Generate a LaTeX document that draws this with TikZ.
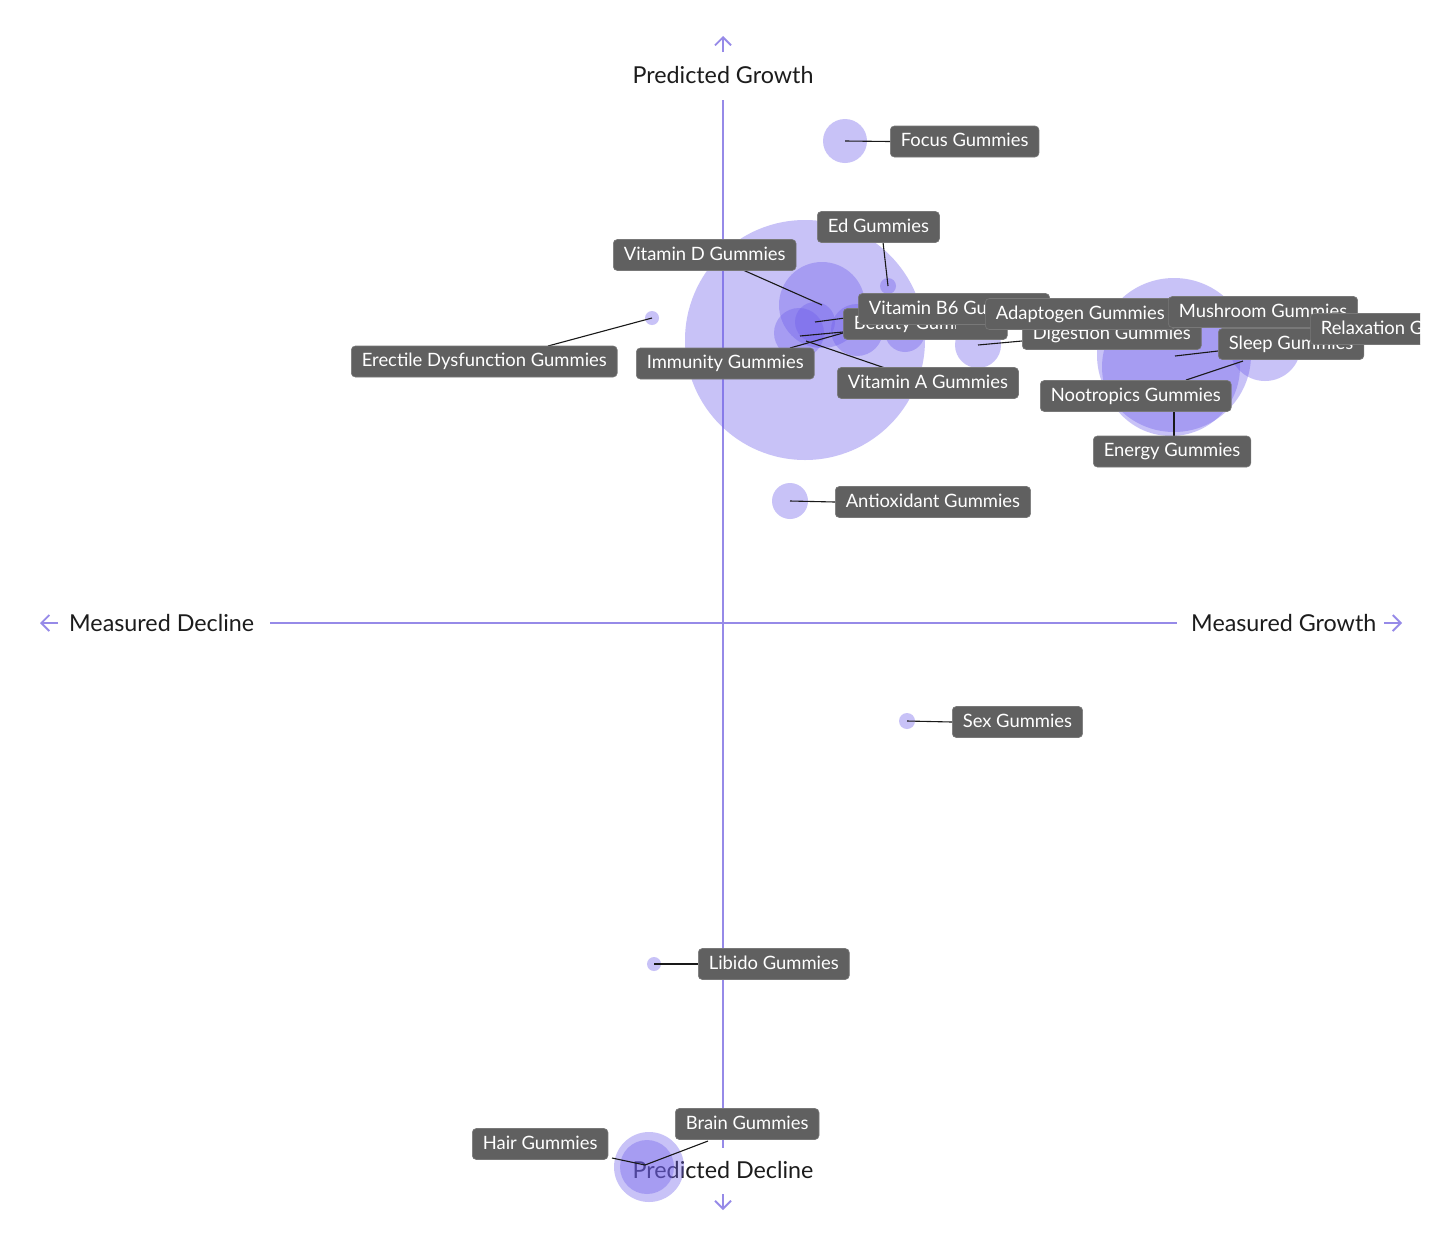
\documentclass[tikz,border=0pt]{standalone}
\usepackage{fontspec}
\setmainfont{Lato}
\usetikzlibrary{arrows.meta}
\definecolor{bub}{RGB}{112,96,236}
\definecolor{axisc}{RGB}{150,138,232}
\definecolor{lblgray}{RGB}{96,96,96}
\definecolor{txtc}{RGB}{28,28,28}
\tikzset{
  bubble/.style={fill=bub, fill opacity=0.38, draw=none},
  lbl/.style={fill=lblgray, draw=lblgray!85!white, line width=0.6pt, rounded corners=4pt, text=white,
    font=\fontsize{18.4}{20}\selectfont, inner xsep=10.5pt, inner ysep=0pt, minimum height=31pt, anchor=west, text height=12pt, text depth=2pt},
  conn/.style={draw=black!90, line width=1.1pt},
  axisline/.style={draw=axisc, line width=1.3pt},
  axistip/.style={draw=axisc, line width=1.8pt, -{Straight Barb[length=8pt,width=16pt,line width=1.8pt]}},
  axislbl/.style={text=txtc, font=\fontsize{23.3}{26}\selectfont, inner sep=0pt},
}
\begin{document}
\begin{tikzpicture}[x=1pt,y=-1pt]
\useasboundingbox[fill=white] (0,0) rectangle (1456,1248);
% axes
\draw[axisline] (723,100) coordinate (vtop) -- (723,1148) coordinate (vbot);
\draw[axisline] (270,623) coordinate (hleft) -- (1177,623) coordinate (hright);
\coordinate (upA) at (723,52); \coordinate (upB) at (723,36);
\coordinate (dnA) at (723,1194); \coordinate (dnB) at (723,1210);
\coordinate (lfA) at (58,623); \coordinate (lfB) at (40,623);
\coordinate (rtA) at (1384,623); \coordinate (rtB) at (1402,623);
\draw[axistip] (upA) -- (upB);
\draw[axistip] (dnA) -- (dnB);
\draw[axistip] (lfA) -- (lfB);
\draw[axistip] (rtA) -- (rtB);
\node[axislbl] (pg) at (723,75) {Predicted Growth};
\node[axislbl] (pd) at (723,1170) {Predicted Decline};
\node[axislbl, anchor=west] (md) at (69,623) {Measured Decline};
\node[axislbl, anchor=west] (mg) at (1191,623) {Measured Growth};
% bubbles
\fill[bubble] (805,340) circle (120);
\fill[bubble] (822,305) circle (43);
\fill[bubble] (815,322) circle (20);
\fill[bubble] (799,333) circle (25);
\fill[bubble] (857,330) circle (26);
\fill[bubble] (905,332) circle (20);
\fill[bubble] (888,286) circle (8);
\fill[bubble] (978,345) circle (23);
\fill[bubble] (652,318) circle (7);
\fill[bubble] (845,141) circle (22);
\fill[bubble] (790,501) circle (18);
\fill[bubble] (907,721) circle (8);
\fill[bubble] (654,964) circle (7);
\fill[bubble] (649,1167) circle (35);
\fill[bubble] (647,1167) circle (27);
\fill[bubble] (1174,355) circle (77);
\fill[bubble] (1171,367) circle (69);
\fill[bubble] (1265,345) circle (36);
% bubble centres / connector ends
\coordinate (cFocus) at (845,141);
\coordinate (cEd) at (888,286); \coordinate (eEd) at (883,242);
\coordinate (cVitD) at (822,305); \coordinate (eVitD) at (743,270);
\coordinate (cErec) at (652,318); \coordinate (eErec) at (548,346);
\coordinate (cB6) at (815,322); \coordinate (eB6) at (845,318);
\coordinate (cBeauty) at (800,336); \coordinate (eBeauty) at (843,332);
\coordinate (cImm) at (790,348); \coordinate (eImm) at (843,333);
\coordinate (cVitA) at (806,341); \coordinate (eVitA) at (885,368);
\coordinate (cDig) at (978,345); \coordinate (eDig) at (1022,341);
\coordinate (cMush) at (1175,356); \coordinate (eMush) at (1218,351);
\coordinate (cNoo) at (1186,380); \coordinate (eNoo) at (1243,361);
\coordinate (cEn) at (1174,412); \coordinate (eEn) at (1174,436);
\coordinate (cAnti) at (790,501);
\coordinate (cSex) at (907,721);
\coordinate (cLib) at (654,964);
\coordinate (cHair) at (645,1165); \coordinate (eHair) at (612,1158);
\coordinate (eBrain) at (708,1141);
% connectors
\draw[conn] (cEd) -- (eEd);
\draw[conn] (cVitD) -- (eVitD);
\draw[conn] (cErec) -- (eErec);
\draw[conn] (cB6) -- (eB6);
\draw[conn] (cBeauty) -- (eBeauty);
\draw[conn] (cImm) -- (eImm);
\draw[conn] (cVitA) -- (eVitA);
\draw[conn] (cDig) -- (eDig);
\draw[conn] (cMush) -- (eMush);
\draw[conn] (cNoo) -- (eNoo);
\draw[conn] (cEn) -- (eEn);
\draw[conn] (cHair) -- (eHair);
\draw[conn] (cHair) -- (eBrain);
% labels
\node[lbl] (lFocus) at (890,141.5) {Focus Gummies};
\node[lbl] (lEd) at (817,227) {Ed Gummies};
\node[lbl] (lVitD) at (613,255) {Vitamin D Gummies};
\node[lbl] (lErec) at (351,361.5) {Erectile Dysfunction Gummies};
\node[lbl] (lImm) at (636,363.5) {Immunity Gummies};
\node[lbl] (lVitA) at (837,383) {Vitamin A Gummies};
\node[lbl, minimum width=164pt, text width=142pt, align=left] (lBeauty) at (843,324) {};
\begin{scope}
\clip (845,300) rectangle (955,345);
\node[lbl, fill=none, draw=none] (tBeauty) at (843,324) {Beauty Gummies};
\end{scope}
\node[lbl] (lB6) at (858,309) {Vitamin B6 Gummies};
\node[lbl] (lDig) at (1022,334) {Digestion Gummies};
\node[lbl] (lAdapt) at (985,314) {Adaptogen Gummies};
\begin{scope}
\clip (0,0) rectangle (1420,1248);
\node[lbl] (lMush) at (1168,312) {Mushroom Gummies};
\node[lbl] (lSleep) at (1218,344) {Sleep Gummies};
\node[lbl] (lRelax) at (1310,329) {Relaxation Gummies};
\end{scope}
\node[lbl] (lNoo) at (1040,396) {Nootropics Gummies};
\node[lbl] (lEn) at (1093,451.5) {Energy Gummies};
\node[lbl] (lAnti) at (835,502) {Antioxidant Gummies};
\node[lbl] (lSex) at (952,722) {Sex Gummies};
\node[lbl] (lLib) at (698,964) {Libido Gummies};
\node[lbl] (lBrain) at (675,1124) {Brain Gummies};
\node[lbl] (lHair) at (472,1144) {Hair Gummies};
\draw[conn] (cFocus) -- (lFocus.west);
\draw[conn] (cAnti) -- (lAnti.west);
\draw[conn] (cSex) -- (lSex.west);
\draw[conn] (cLib) -- (lLib.west);
\end{tikzpicture}
\end{document}
